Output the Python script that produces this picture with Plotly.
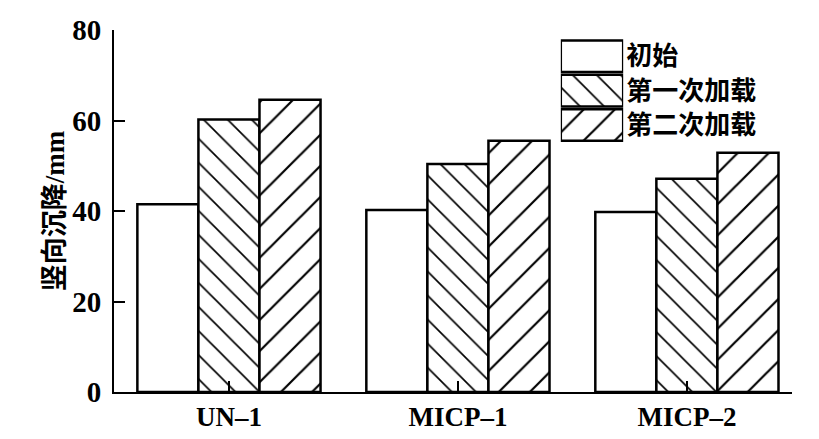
import plotly.graph_objects as go

# data
categories = ["UN–1", "MICP–1", "MICP–2"]
initial = [41.5, 40.2, 39.8]
first_load = [60.2, 50.4, 47.1]
second_load = [64.6, 55.5, 52.9]

series_names = ["初始", "第一次加载", "第二次加载"]
series_values = [initial, first_load, second_load]
patterns = ["", "\\", "/"]
pattern_sizes = [10, 17, 22]

x_pos = list(range(len(categories)))
serif = "Liberation Serif, Times New Roman, serif"
cjk = "Liberation Serif, Noto Sans CJK SC, sans-serif"

fig = go.Figure()

for name, vals, pat, psize in zip(series_names, series_values, patterns, pattern_sizes):
    fig.add_trace(go.Bar(
        x=x_pos, y=vals, name=name,
        marker=dict(
            color="white",
            line=dict(color="black", width=2.5),
            pattern=dict(shape=pat, size=psize, solidity=0.1, fgopacity=1,
                         fgcolor="black", bgcolor="white", fillmode="overlay"),
        ),
        showlegend=False,
    ))

# legend drawn as a small horizontal bar chart on its own axes
fig.add_trace(go.Bar(
    x=[1] * len(series_names), y=series_names, orientation="h",
    width=0.92,
    marker=dict(
        color="white",
        line=dict(color="black", width=2.5),
        pattern=dict(shape=patterns, size=[10, 17, 22], solidity=0.1, fgopacity=1,
                     fgcolor="black", bgcolor="white", fillmode="overlay"),
    ),
    xaxis="x2", yaxis="y2", showlegend=False,
))

# page body keeps an 8px margin, so the figure is drawn 16px smaller
fig.update_layout(
    width=803, height=423,
    margin=dict(l=106, r=19, t=22, b=39),
    paper_bgcolor="white", plot_bgcolor="white",
    barmode="group", bargap=0.2, bargroupgap=0,
    showlegend=False,
    xaxis=dict(
        range=[-0.502, 2.459], automargin=False,
        tickmode="array", tickvals=x_pos + [2.459], ticktext=categories + [""],
        ticks="inside", ticklen=11, tickwidth=2, tickcolor="black",
        showline=True, linecolor="black", linewidth=2,
        showgrid=False, zeroline=False,
        tickfont=dict(family=serif, size=27, color="black", weight="bold"),
    ),
    yaxis=dict(
        range=[0, 80], tickvals=[0, 20, 40, 60, 80], automargin=False,
        ticks="inside", ticklen=11, tickwidth=2, tickcolor="black",
        showline=True, linecolor="black", linewidth=2,
        showgrid=False, zeroline=False,
        ticklabelstandoff=5,
        tickfont=dict(family=serif, size=29, color="black", weight="bold"),
        title=dict(text="竖向沉降/mm", standoff=0,
                   font=dict(family=cjk, size=27, color="black", weight="bold")),
    ),
    xaxis2=dict(
        domain=[0.659, 0.751], anchor="y2", range=[0, 1],
        visible=False, fixedrange=True,
    ),
    yaxis2=dict(
        domain=[0.69, 0.975], anchor="x2", side="right", automargin=False,
        autorange="reversed", showline=False, showgrid=False,
        zeroline=False, ticks="", ticklabelstandoff=2,
        tickfont=dict(family="Noto Sans CJK SC", size=26, color="black", weight="bold"),
    ),
)

fig.write_html("out.html")
